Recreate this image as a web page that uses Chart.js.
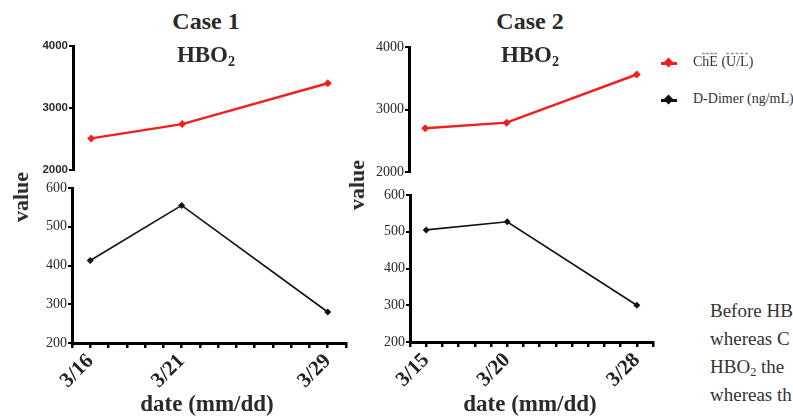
<!DOCTYPE html>
<html>
<head>
<meta charset="utf-8">
<script src="https://cdn.jsdelivr.net/npm/chart.js@4.4.1/dist/chart.umd.min.js"></script>
<style>
  html, body { margin: 0; padding: 0; background: #fff; }
  #page { position: relative; width: 793px; height: 420px; overflow: hidden; font-family: "Liberation Serif", serif; color: #222; }
  canvas { position: absolute; }
  .txt { position: absolute; white-space: nowrap; line-height: 1; }
  .title { font-weight: bold; font-size: 24px; width: 200px; text-align: center; color: #2a2a2a; }
  .sub { font-size: 23px; font-weight: bold; width: 200px; text-align: center; color: #2a2a2a; }
  .sub sub { font-size: 0.62em; vertical-align: -0.28em; line-height: 0; }
  .ylab { font-weight: bold; font-size: 22px; transform: translate(-50%, -50%) rotate(-90deg); color: #2a2a2a; }
  .xlab { font-weight: bold; font-size: 23px; width: 200px; text-align: center; color: #2a2a2a; }
  .leg { position: absolute; left: 660px; font-size: 14px; color: #333; }
  .leg .ln { position: absolute; left: 1px; top: -1px; width: 16px; height: 3px; }
  .leg .dm { position: absolute; left: 5px; top: -4px; width: 7px; height: 7px; transform: rotate(45deg); }
  .leg .lt { position: absolute; left: 33px; top: -9px; white-space: nowrap; }
  .ov { text-decoration: overline dashed #999; }
  #para { position: absolute; left: 710px; top: 297px; font-size: 19px; line-height: 28px; color: #333; white-space: nowrap; }
  #para sub { font-size: 0.65em; vertical-align: -0.25em; line-height: 0; }
</style>
</head>
<body>
<div id="page">
  <canvas id="c1top" width="352" height="142" style="left:0;top:36px"></canvas>
  <canvas id="c1bot" width="352" height="220" style="left:0;top:178px"></canvas>
  <canvas id="c2top" width="292" height="142" style="left:366px;top:36px"></canvas>
  <canvas id="c2bot" width="292" height="220" style="left:366px;top:178px"></canvas>

  <div class="txt title" style="left:106px;top:9px">Case 1</div>
  <div class="txt sub" style="left:106px;top:43px">HBO<sub>2</sub></div>
  <div class="txt title" style="left:430px;top:9px">Case 2</div>
  <div class="txt sub" style="left:430px;top:43px">HBO<sub>2</sub></div>

  <div class="txt ylab" style="left:21px;top:197px">value</div>
  <div class="txt ylab" style="left:357px;top:185px">value</div>

  <div class="txt xlab" style="left:107px;top:392px">date (mm/dd)</div>
  <div class="txt xlab" style="left:430px;top:392px">date (mm/dd)</div>

  <div class="leg" style="top:63px">
    <div class="ln" style="background:#f02020"></div><div class="dm" style="background:#f02020"></div>
    <div class="lt">C<span class="ov">hE</span> (<span class="ov">U/L</span>)</div>
  </div>
  <div class="leg" style="top:100px">
    <div class="ln" style="background:#111"></div><div class="dm" style="background:#111"></div>
    <div class="lt">D-Dimer (ng/mL)</div>
  </div>

  <div id="para">Before HB<br>whereas C<br>HBO<sub>2</sub> the<br>whereas th</div>
</div>

<script>
// ---- data ----
const case1Dates = ['3/16', '3/21', '3/29'];
const case1ChE = [2510, 2740, 3400];
const case1DDimer = [413, 555, 280];

const case2Dates = ['3/15', '3/20', '3/28'];
const case2ChE = [2700, 2790, 3560];
const case2DDimer = [505, 527, 300];

const cheTicks = [2000, 3000, 4000];
const dDimerTicks = [200, 300, 400, 500, 600];

const SERIF = '"Liberation Serif", serif';
const SANS = '"Liberation Sans", Arial, sans-serif';
const RED = '#f02020';

const toDay = d => +d.split('/')[1];

function panel(id, o) {
    const days = o.dates.map(toDay);
    const yTicks = o.yTicks;
    return new Chart(document.getElementById(id), {
        type: 'line',
        data: {
            datasets: [{
                data: days.map((x, i) => ({ x: x, y: o.values[i] })),
                borderColor: o.color,
                backgroundColor: o.color,
                borderWidth: o.lineW,
                pointStyle: 'rectRot',
                pointRadius: o.ptR,
                pointBorderWidth: 0,
                tension: 0,
                clip: false
            }]
        },
        options: {
            responsive: false,
            animation: false,
            layout: { padding: o.pad },
            plugins: { legend: { display: false }, tooltip: { enabled: false } },
            scales: {
                x: {
                    type: 'linear',
                    display: o.showX,
                    min: o.xMin,
                    max: o.xMax,
                    afterBuildTicks: ax => {
                        const t = [];
                        for (let v = o.xMin; v <= o.xMax; v++) t.push({ value: v });
                        ax.ticks = t;
                    },
                    afterFit: ax => {
                        if (o.xH) ax.height = o.xH;
                        ax.paddingLeft = 0; ax.paddingRight = 0;
                    },
                    border: { color: '#000', width: 3 },
                    grid: { drawOnChartArea: false, color: '#000', tickLength: 5, lineWidth: 2.5 },
                    ticks: {
                        autoSkip: false, maxRotation: 45, minRotation: 45, padding: 1,
                        color: '#222',
                        font: { family: SERIF, size: 21, weight: 'bold' },
                        callback: v => {
                            const i = days.indexOf(v);
                            return i >= 0 ? o.dates[i] : '';
                        }
                    }
                },
                y: {
                    min: yTicks[0],
                    max: yTicks[yTicks.length - 1],
                    afterBuildTicks: ax => { ax.ticks = yTicks.map(v => ({ value: v })); },
                    afterFit: ax => {
                        ax.width = o.yW;
                        ax.paddingTop = 0; ax.paddingBottom = 0;
                    },
                    border: { color: '#000', width: 3 },
                    grid: { drawOnChartArea: false, color: '#000', tickLength: 4, lineWidth: 2 },
                    ticks: {
                        padding: 1,
                        color: '#2a2a2a',
                        font: o.yFont,
                        callback: v => String(v)
                    }
                }
            }
        }
    });
}

document.addEventListener('DOMContentLoaded', () => {
    // Case 1
    panel('c1top', {
        dates: case1Dates, values: case1ChE, yTicks: cheTicks,
        color: RED, lineW: 2.5, ptR: 4,
        xMin: 15, xMax: 30, showX: false,
        pad: { top: 10, bottom: 8, left: 0, right: 6 }, yW: 73,
        yFont: { family: SANS, size: 11.5, weight: 'bold' }
    });
    panel('c1bot', {
        dates: case1Dates, values: case1DDimer, yTicks: dDimerTicks,
        color: '#111', lineW: 1.6, ptR: 3.5,
        xMin: 15, xMax: 30, showX: true, xH: 55,
        pad: { top: 10, bottom: 0, left: 0, right: 6 }, yW: 72,
        yFont: { family: SERIF, size: 14 }
    });
    // Case 2
    panel('c2top', {
        dates: case2Dates, values: case2ChE, yTicks: cheTicks,
        color: RED, lineW: 2.5, ptR: 4,
        xMin: 14, xMax: 29, showX: false,
        pad: { top: 11, bottom: 6, left: 0, right: 5 }, yW: 43,
        yFont: { family: SERIF, size: 14 }
    });
    panel('c2bot', {
        dates: case2Dates, values: case2DDimer, yTicks: dDimerTicks,
        color: '#111', lineW: 1.6, ptR: 3.5,
        xMin: 14, xMax: 29, showX: true, xH: 56,
        pad: { top: 17, bottom: 0, left: 0, right: 5 }, yW: 44,
        yFont: { family: SERIF, size: 14 }
    });
});
</script>
</body>
</html>
